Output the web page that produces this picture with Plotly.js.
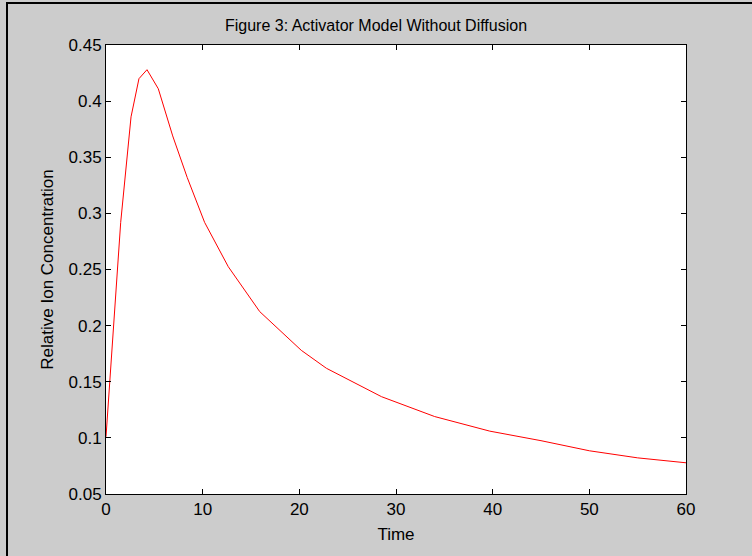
<!DOCTYPE html>
<html>
<head>
<meta charset="utf-8">
<script src="https://cdn.plot.ly/plotly-3.0.1.min.js"></script>
<style>
  html, body { margin: 0; padding: 0; background: #cccccc; overflow: hidden; }
  #chart { width: 752px; height: 556px; }
  #frame { position: absolute; left: 6px; top: 2px; width: 900px; height: 700px;
           border-left: 2px solid #000; border-top: 2px solid #000; pointer-events: none; }
</style>
</head>
<body>
<div id="chart"></div>
<div id="frame"></div>
<script>
// Time points (solver output) and activator concentration
const time = [0, 0.76, 1.52, 2.59, 3.41, 4.24, 5.41, 6.9, 8.4, 10.2, 12.65, 15.9, 20.2, 22.8, 28.5, 34, 39.7, 45, 50, 55, 60];
const concentration = [0.101, 0.2, 0.292, 0.386, 0.420, 0.428, 0.411, 0.369, 0.332, 0.292, 0.2525, 0.2125, 0.178, 0.162, 0.1367, 0.119, 0.106, 0.0975, 0.0885, 0.0822, 0.0778];

const xTicks = [0, 10, 20, 30, 40, 50, 60];
const yTicks = [0.05, 0.1, 0.15, 0.2, 0.25, 0.3, 0.35, 0.4, 0.45];

const font = 'Liberation Sans, Arial, sans-serif';

const trace = {
  x: time, y: concentration, type: 'scatter', mode: 'lines',
  line: { color: '#ff0000', width: 1 }, hoverinfo: 'skip'
};

const axisCommon = {
  showgrid: false, zeroline: false, showline: true, linecolor: '#000', linewidth: 1,
  mirror: 'ticks', ticks: 'inside', ticklen: 5, tickcolor: '#000', tickwidth: 1,
  tickfont: { family: font, size: 17, color: '#000' }
};

const layout = {
  width: 752, height: 556,
  paper_bgcolor: '#cccccc', plot_bgcolor: '#ffffff',
  margin: { l: 106, r: 66, t: 45, b: 62 },
  showlegend: false,
  title: { text: 'Figure 3: Activator Model Without Diffusion', font: { family: font, size: 16, color: '#000' },
           x: 0.5, xref: 'container', y: 1 - 25/556, yref: 'container', yanchor: 'middle' },
  xaxis: Object.assign({}, axisCommon, {
    range: [0, 60], tickvals: xTicks, ticktext: xTicks.map(String),
    title: { text: 'Time', font: { family: font, size: 17, color: '#000' }, standoff: 9 }
  }),
  yaxis: Object.assign({}, axisCommon, {
    range: [0.05, 0.45], tickvals: yTicks, ticktext: yTicks.map(String),
    title: { text: 'Relative Ion Concentration', font: { family: font, size: 17, color: '#000' }, standoff: 10 }
  })
};

Plotly.newPlot('chart', [trace], layout, { displayModeBar: false, staticPlot: true });
</script>
</body>
</html>
